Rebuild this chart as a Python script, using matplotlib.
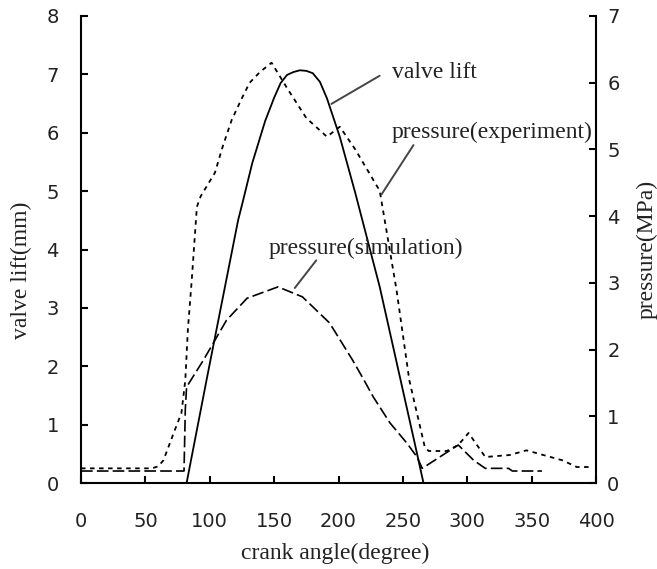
import matplotlib.pyplot as plt

# --- data ---
# valve lift (left axis, mm)
lift_angle = [82, 98, 110, 122, 126, 133, 143, 150, 155, 160, 165, 170, 175, 180, 185.6, 191, 201, 213, 232, 259, 266]
lift_mm = [0.0, 1.82, 3.16, 4.5, 4.85, 5.48, 6.2, 6.6, 6.85, 6.99, 7.04, 7.07, 7.06, 7.02, 6.87, 6.59, 5.93, 4.97, 3.36, 0.7, 0.0]

# pressure, experiment (right axis, MPa)
exp_angle = [0, 55, 60, 64, 72, 78, 81, 83, 86, 90, 93, 104, 110, 117, 125, 131, 139, 148, 160, 175,
             191, 201, 213, 232, 245, 255, 267, 270, 284, 293, 301, 314, 333, 346, 359, 374, 385, 395]
exp_mpa = [0.22, 0.22, 0.25, 0.34, 0.75, 1.05, 1.54, 2.3, 3.04, 4.14, 4.3, 4.65, 5.04, 5.44, 5.77, 6.0, 6.16, 6.3, 5.92, 5.47,
           5.19, 5.34, 5.0, 4.38, 2.9, 1.54, 0.54, 0.48, 0.48, 0.57, 0.75, 0.39, 0.42, 0.49, 0.42, 0.34, 0.24, 0.24]

# pressure, simulation (right axis, MPa)
sim_angle = [0, 80, 81, 82, 95, 105.5, 113, 129, 153, 172, 193, 211, 219, 227, 240, 253, 261, 265,
             293, 305, 314, 332, 335, 358]
sim_mpa = [0.18, 0.18, 1.1, 1.44, 1.84, 2.19, 2.44, 2.77, 2.94, 2.79, 2.4, 1.84, 1.57, 1.29, 0.9, 0.6, 0.39, 0.22,
           0.57, 0.34, 0.22, 0.22, 0.18, 0.18]

x_ticks = [0, 50, 100, 150, 200, 250, 300, 350, 400]

SERIF = 'Liberation Serif'
TICK_FONT = 'DejaVu Sans'
TEXT_SIZE = 17

fig = plt.figure(figsize=(6.57, 5.69), dpi=100)
ax = fig.add_axes([0.1233, 0.1511, 0.7839, 0.8208])
ax2 = ax.twinx()

ax.plot(lift_angle, lift_mm, color='black', lw=1.3, solid_capstyle='butt')
ax2.plot(exp_angle, exp_mpa, color='black', lw=1.3, dashes=(2.5, 2.5))
ax2.plot(sim_angle, sim_mpa, color='black', lw=1.2, dashes=(7, 2.5))

ax.set_xlim(0, 400)
ax.set_ylim(0, 8)
ax2.set_ylim(0, 7)
ax.set_xticks(x_ticks)
ax.set_yticks(range(0, 9))
ax2.set_yticks(range(0, 8))

for a in (ax, ax2):
    a.spines['top'].set_visible(False)
    for s in a.spines.values():
        s.set_linewidth(1.5)
ax.spines['right'].set_visible(False)
ax2.spines['left'].set_visible(False)
ax2.spines['bottom'].set_visible(False)

ax.tick_params(axis='x', direction='in', length=5, width=1.5, pad=21,
               labelsize=14, labelcolor='#222222')
ax.tick_params(axis='y', direction='in', length=5, width=1.5, pad=16,
               labelsize=14, labelcolor='#222222')
ax2.tick_params(axis='y', direction='in', length=5, width=1.5, pad=8,
                labelsize=14, labelcolor='#222222')
for lab in ax.get_xticklabels() + ax.get_yticklabels() + ax2.get_yticklabels():
    lab.set_fontfamily(TICK_FONT)

ax.set_xlabel('crank angle(degree)', family=SERIF, fontsize=TEXT_SIZE, color='#222222')
ax.set_ylabel('valve lift(mm)', family=SERIF, fontsize=TEXT_SIZE, color='#222222')
ax2.set_ylabel('pressure(MPa)', family=SERIF, fontsize=TEXT_SIZE, color='#222222', rotation=90)
ax.xaxis.set_label_coords(0.493, -0.128)
ax.yaxis.set_label_coords(-0.095, 0.456)
ax2.yaxis.set_label_coords(1.078, 0.5)

# curve labels with leader lines
ax.text(241.6, 7.04, 'valve lift', family=SERIF, fontsize=TEXT_SIZE, va='center', ha='left', color='#222222')
ax.annotate('', xy=(192.6, 6.47), xytext=(233.8, 7.0),
            arrowprops=dict(arrowstyle='-', color='#444444', lw=1.4))

ax2.text(241.6, 5.26, 'pressure(experiment)', family=SERIF, fontsize=TEXT_SIZE, va='center', ha='left', color='#222222')
ax2.annotate('', xy=(232.2, 4.29), xytext=(259.4, 5.1),
             arrowprops=dict(arrowstyle='-', color='#444444', lw=1.4))

ax2.text(146, 3.52, 'pressure(simulation)', family=SERIF, fontsize=TEXT_SIZE, va='center', ha='left', color='#222222')
ax2.annotate('', xy=(164.7, 2.89), xytext=(184, 3.37),
             arrowprops=dict(arrowstyle='-', color='#444444', lw=1.4))

fig.savefig('out.png', dpi=100)
plt.close(fig)
